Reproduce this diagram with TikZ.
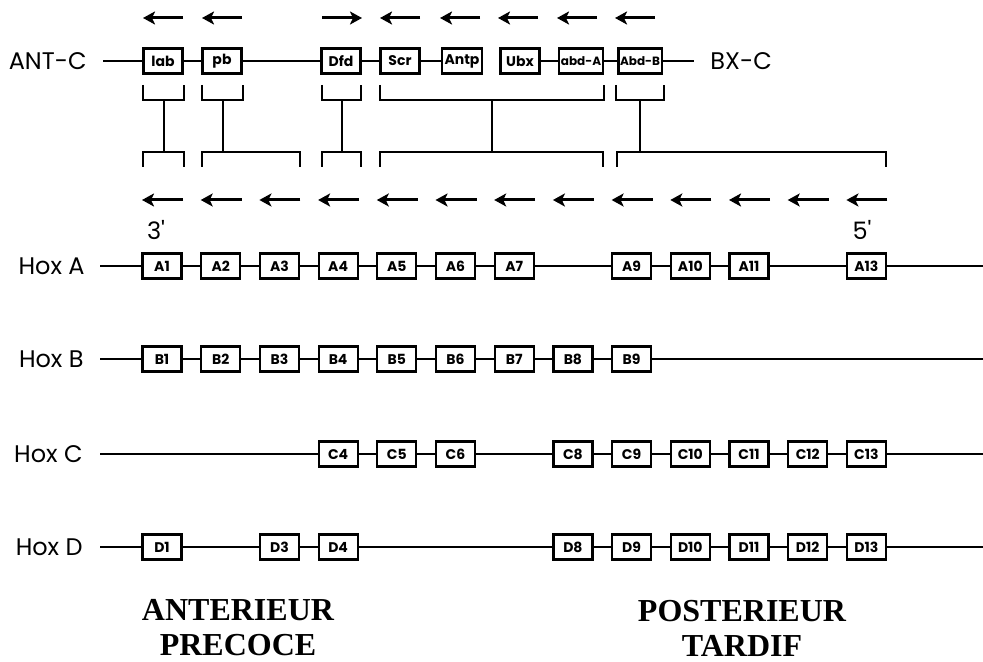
\documentclass[tikz,border=0pt]{standalone}
\usepackage{fontspec}
\setmainfont{Poppins}
\newfontfamily\titlefont{Liberation Serif}
\usetikzlibrary{arrows.meta}

\begin{document}
\begin{tikzpicture}[
  x=0.5pt, y=-0.5pt,
  font=\fontsize{12}{14}\selectfont,
  gene/.style={draw, line width=1.1pt, fill=white, font=\bfseries\fontsize{7}{8}\selectfont,
    minimum width=19.5pt, minimum height=12.5pt, inner sep=1.2pt},
  narrow/.style={font=\bfseries\fontsize{6}{7}\selectfont, inner xsep=0.8pt},
  dna/.style={line width=1.1pt},
  brk/.style={line width=1pt},
  garrow/.style={-{Stealth[length=6pt,width=6.5pt,inset=1.5pt]}, line width=1.5pt},
  rowlabel/.style={anchor=east, inner sep=0pt},
  region/.style={font=\titlefont\bfseries\fontsize{16}{17.5}\selectfont, align=center}]
\useasboundingbox (0,0) rectangle (983,662);

% ANT-C / BX-C
\node[rowlabel] (antc) at (87,61) {ANT-C};
\coordinate (antcS) at (103,61);
\coordinate (antcE) at (694,61);
\node[gene] (lab)  at (163,61) {lab};
\node[gene] (pb)   at (222,61) {pb};
\node[gene] (dfd)  at (341,61) {Dfd};
\node[gene] (scr)  at (400,61) {Scr};
\node[gene] (antp) at (462,61) {Antp};
\node[gene] (ubx)  at (520,61) {Ubx};
\node[gene, narrow] (abdA) at (581,61) {abd-A};
\node[gene, narrow] (abdB) at (640,61) {Abd-B};
\node[anchor=west, inner sep=0pt] (bxc) at (710,61) {BX-C};
\draw[dna] (antcS) -- (lab) -- (pb) -- (dfd) -- (scr) -- (antp);
\draw[dna] (ubx) -- (abdA) -- (abdB) -- (antcE);

% transcription direction
\foreach \x in {163,222,400,460,518,577,635} \draw[garrow] (\x+20,18) -- (\x-20,18);
\draw[garrow] (322,18) -- (362,18);

% homology brackets
\foreach \ua/\ub/\la/\lb in {143/184/143/184, 202/243/202/300, 322/361/322/361,
                             380/604/380/603, 616/664/617/886} {
  \draw[brk] (\ua,85) |- (\ub,100) -- (\ub,85);
  \draw[brk] (\la,167) |- (\lb,152) -- (\lb,167);
  \draw[brk] ({(\ua+\ub)/2},100) -- ({(\ua+\ub)/2},152);
}
\foreach \i in {1,...,13}
  \draw[garrow] ({162+58.7*(\i-1)+21},200) -- ({162+58.7*(\i-1)-20},200);
\node (p3) at (156,230) {3\textquotesingle};
\node (p5) at (862,230) {5\textquotesingle};

% Hox A
\node[rowlabel] (hoxA) at (85,266) {Hox A};
\coordinate (sA) at (100,266);
\coordinate (eA) at (983,266);
\foreach \i in {1,2,3,4,5,6,7,9,10,11,13}
  \node[gene] (A\i) at ({162+58.7*(\i-1)},266) {A\i};
\draw[dna] (sA) -- (A1) -- (A2) -- (A3) -- (A4) -- (A5) -- (A6) -- (A7) -- (A9)
  -- (A10) -- (A11) -- (A13) -- (eA);

% Hox B
\node[rowlabel] (hoxB) at (84,359) {Hox B};
\coordinate (sB) at (100,359);
\coordinate (eB) at (983,359);
\foreach \i in {1,...,9}
  \node[gene] (B\i) at ({162+58.7*(\i-1)},359) {B\i};
\draw[dna] (sB) -- (B1) -- (B2) -- (B3) -- (B4) -- (B5) -- (B6) -- (B7) -- (B8)
  -- (B9) -- (eB);

% Hox C
\node[rowlabel] (hoxC) at (83,454) {Hox C};
\coordinate (sC) at (100,454);
\coordinate (eC) at (983,454);
\foreach \i in {4,5,6,8,9,10,11,12,13}
  \node[gene] (C\i) at ({162+58.7*(\i-1)},454) {C\i};
\draw[dna] (sC) -- (C4) -- (C5) -- (C6) -- (C8) -- (C9) -- (C10) -- (C11) -- (C12)
  -- (C13) -- (eC);

% Hox D
\node[rowlabel] (hoxD) at (83,547) {Hox D};
\coordinate (sD) at (100,547);
\coordinate (eD) at (983,547);
\foreach \i in {1,3,4,8,9,10,11,12,13}
  \node[gene] (D\i) at ({162+58.7*(\i-1)},547) {D\i};
\draw[dna] (sD) -- (D1) -- (D3) -- (D4) -- (D8) -- (D9) -- (D10) -- (D11) -- (D12)
  -- (D13) -- (eD);

\node[region] (ant)  at (238,628) {ANTERIEUR\\PRECOCE};
\node[region] (post) at (742,628) {POSTERIEUR\\TARDIF};
\end{tikzpicture}
\end{document}
